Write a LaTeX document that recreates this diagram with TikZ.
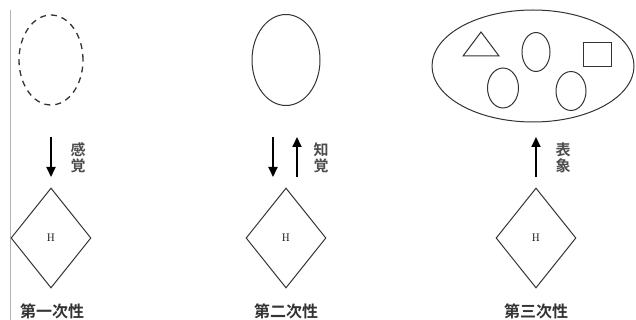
\documentclass[tikz,border=0pt]{standalone}
\usepackage{fontspec}
\newfontfamily\jfont{Noto Sans CJK JP}[BoldFont={* Bold}]
\usetikzlibrary{shapes.geometric,arrows.meta}
\begin{document}
\begin{tikzpicture}[x=1pt,y=-1pt,
  shape line/.style={draw=black!80,line width=1pt},
  sign/.style={shape line,diamond,minimum width=80pt,minimum height=100pt,inner sep=0pt,
    font=\fontsize{11}{11}\selectfont},
  oval/.style={shape line,ellipse,inner sep=0pt},
  flow/.style={line width=1.8pt,-{Triangle[length=10pt,width=9pt]}},
  vlabel/.style={font=\jfont\bfseries\fontsize{15}{16}\selectfont,text=black!70,
    align=center,inner sep=0pt},
  caption/.style={font=\jfont\bfseries\fontsize{16}{16}\selectfont,text=black!80,inner sep=0pt}]
\useasboundingbox (0,0) rectangle (636,320);
% left rule
\draw[black!30,line width=0.6pt] (10,10) -- (10,320);

% ---- first column
\node[oval,line width=1.3pt,dash pattern=on 6pt off 5pt,minimum width=64pt,minimum height=90pt] (e1) at (51,60) {};
\node[sign] (h1) at (51,238) {H};
\coordinate (a1s) at (51,137);
\coordinate (a1e) at (51,177);
\draw[flow] (a1s) -- (a1e);
\node[vlabel] (l1) at (78,158) {感\\覚};
\node[caption] (c1) at (52,311) {第一次性};

% ---- second column
\node[oval,minimum width=68pt,minimum height=91pt] (e2) at (286,60) {};
\node[sign] (h2) at (286,238) {H};
\coordinate (a2s) at (273,137);
\coordinate (a2e) at (273,177);
\draw[flow] (a2s) -- (a2e);
\coordinate (a3s) at (297,177);
\coordinate (a3e) at (297,137);
\draw[flow] (a3s) -- (a3e);
\node[vlabel] (l2) at (321,158) {知\\覚};
\node[caption] (c2) at (286,311) {第二次性};

% ---- third column
\node[oval,minimum width=202pt,minimum height=112pt] (e3) at (533,66) {};
\draw[shape line] (481,32) -- (463,56) -- (499,56) -- cycle;
\node[oval,minimum width=28pt,minimum height=39pt] (o1) at (536,52) {};
\node[shape line,rectangle,minimum width=28pt,minimum height=24pt,inner sep=0pt] (sq) at (597,55) {};
\node[oval,minimum width=31pt,minimum height=40pt] (o2) at (503,88) {};
\node[oval,minimum width=30pt,minimum height=39pt] (o3) at (571,91) {};
\node[sign] (h3) at (536,238) {H};
\coordinate (a4s) at (536,177);
\coordinate (a4e) at (536,137);
\draw[flow] (a4s) -- (a4e);
\node[vlabel] (l3) at (563,158) {表\\象};
\node[caption] (c3) at (536,311) {第三次性};
\end{tikzpicture}
\end{document}
